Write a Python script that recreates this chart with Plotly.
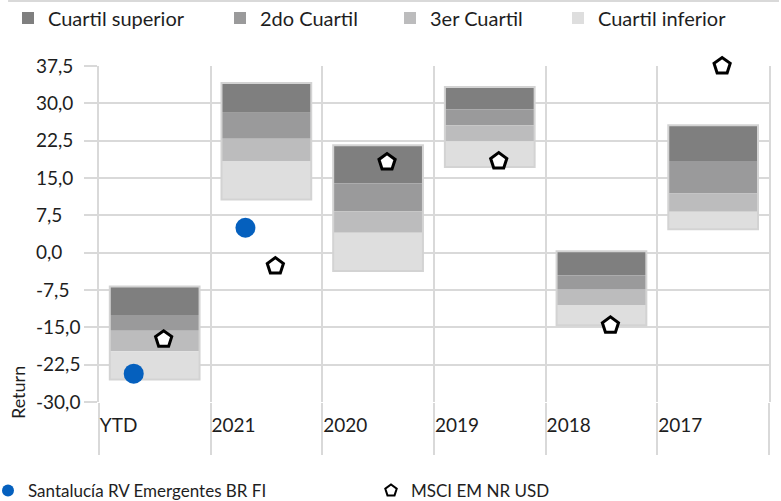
import plotly.graph_objects as go

categories = ["YTD", "2021", "2020", "2019", "2018", "2017"]
q_max = [-6.8, 34.1, 21.6, 33.3, 0.3, 25.6]
q_upper = [-12.5, 28.1, 13.9, 28.8, -4.6, 18.4]
q_median = [-15.7, 22.9, 8.3, 25.6, -7.4, 11.9]
q_lower = [-19.8, 18.4, 4.0, 22.4, -10.5, 8.2]
q_min = [-25.5, 10.7, -3.7, 17.2, -14.6, 4.7]
fund = [-24.3, 5.0, None, None, None, None]
bench = [-17.4, -2.7, 18.2, 18.4, -14.6, 37.5]
y_ticks = [-30.0, -22.5, -15.0, -7.5, 0.0, 7.5, 15.0, 22.5, 30.0, 37.5]
y_tick_labels = ["-30,0", "-22,5", "-15,0", "-7,5", "0,0", "7,5", "15,0", "22,5", "30,0", "37,5"]
quartile_names = ["Cuartil superior", "2do Cuartil", "3er Cuartil", "Cuartil inferior"]
quartile_colors = ["#7f7f7f", "#9a9a9b", "#bcbcbd", "#dedede"]
fund_name = "Santalucía RV Emergentes BR FI"
bench_name = "MSCI EM NR USD"

W_FIG, H_FIG = 781, 501
L, R, T, B = 35, 10, 66, 99
PW = W_FIG - L - R
PH = H_FIG - T - B
FONT = "Lato"
TXT = "#1e1e1e"
GRID = "#d9d9d9"


def px_x(p):
    return (p - L) / PW


def px_y(p):
    return (H_FIG - B - p) / PH


n = len(categories)
centers = [i + 0.5 for i in range(n)]
bar_w = 90 / 112

fig = go.Figure()

uppers = [q_max, q_upper, q_median, q_lower]
lowers = [q_upper, q_median, q_lower, q_min]
legend_ids = ["legend", "legend2", "legend3", "legend4"]
for name, col, up, lo, lg in zip(quartile_names, quartile_colors, uppers, lowers, legend_ids):
    fig.add_trace(go.Bar(
        x=centers, y=[u - l for u, l in zip(up, lo)], base=lo, width=bar_w,
        name=name, marker=dict(color=col, line=dict(width=0)), legend=lg,
        hoverinfo="skip"))

# outline of each box
fig.add_trace(go.Bar(
    x=centers, y=[u - l for u, l in zip(q_max, q_min)], base=q_min, width=bar_w,
    marker=dict(color="rgba(0,0,0,0)", line=dict(color="#d3d3d3", width=2)),
    showlegend=False, hoverinfo="skip"))

fig.add_trace(go.Scatter(
    x=[c - 21 / 112 for c in centers], y=fund, mode="markers", name=fund_name,
    marker=dict(symbol="circle", size=20, color="#0560BE"), legend="legend5",
    yaxis="y2", cliponaxis=False))
fig.add_trace(go.Scatter(
    x=[c + 9 / 112 for c in centers], y=bench, mode="markers", name=bench_name,
    marker=dict(symbol="pentagon", size=17, color="white",
                line=dict(color="black", width=3)), legend="legend6",
    yaxis="y2", cliponaxis=False))

yr = [y_ticks[0], y_ticks[-1]]


def leg(xp, yp, size, indent=0):
    return dict(xref="container", yref="container", x=xp / W_FIG, y=1 - yp / H_FIG,
                xanchor="left", yanchor="middle", bgcolor="rgba(0,0,0,0)",
                borderwidth=0, font=dict(family=FONT, size=size, color=TXT),
                orientation="h", indentation=indent)


fig.update_layout(
    width=W_FIG, height=H_FIG, margin=dict(l=L, r=R, t=T, b=B),
    paper_bgcolor="white", plot_bgcolor="white",
    barmode="overlay",
    font=dict(family=FONT, color=TXT),
    xaxis=dict(domain=[px_x(99), 1], range=[0, n],
               tickvals=list(range(n + 1)), ticktext=categories + [""],
               showgrid=True, gridcolor=GRID, gridwidth=2,
               ticks="outside", ticklen=52, tickwidth=2, tickcolor=GRID,
               ticklabelposition="outside right", ticklabelstandoff=6,
               tickfont=dict(family=FONT, size=19, color=TXT),
               zeroline=False, showline=False, fixedrange=True),
    yaxis=dict(range=yr, tickvals=y_ticks, showticklabels=False,
               showgrid=True, gridcolor=GRID, gridwidth=2,
               ticks="outside", ticklen=13, tickwidth=2, tickcolor=GRID,
               zeroline=False, showline=True, linecolor=GRID, linewidth=2,
               mirror=True),
    yaxis2=dict(range=yr, overlaying="y", anchor="free", position=0, side="right",
                tickvals=y_ticks, ticktext=y_tick_labels, showgrid=False,
                ticks="", zeroline=False, showline=False,
                tickfont=dict(family=FONT, size=19, color=TXT)),
    legend=leg(8, 18, 20),
    legend2=leg(220, 18, 20),
    legend3=leg(390, 18, 20),
    legend4=leg(558, 18, 20),
    legend5=dict(leg(0, 491, 17, -12), itemsizing="constant"),
    legend6=dict(leg(371, 491, 17), itemsizing="constant"),
    shapes=[dict(type="line", xref="paper", yref="paper",
                 x0=px_x(8), x1=px_x(781), y0=px_y(1), y1=px_y(1),
                 line=dict(color=GRID, width=2))],
    annotations=[dict(text="Return", xref="paper", yref="paper",
                      x=px_x(18), y=px_y(393), textangle=-90, showarrow=False,
                      xanchor="center", yanchor="middle",
                      font=dict(family=FONT, size=18, color=TXT))],
    showlegend=True,
)

fig.write_html("out.html")
